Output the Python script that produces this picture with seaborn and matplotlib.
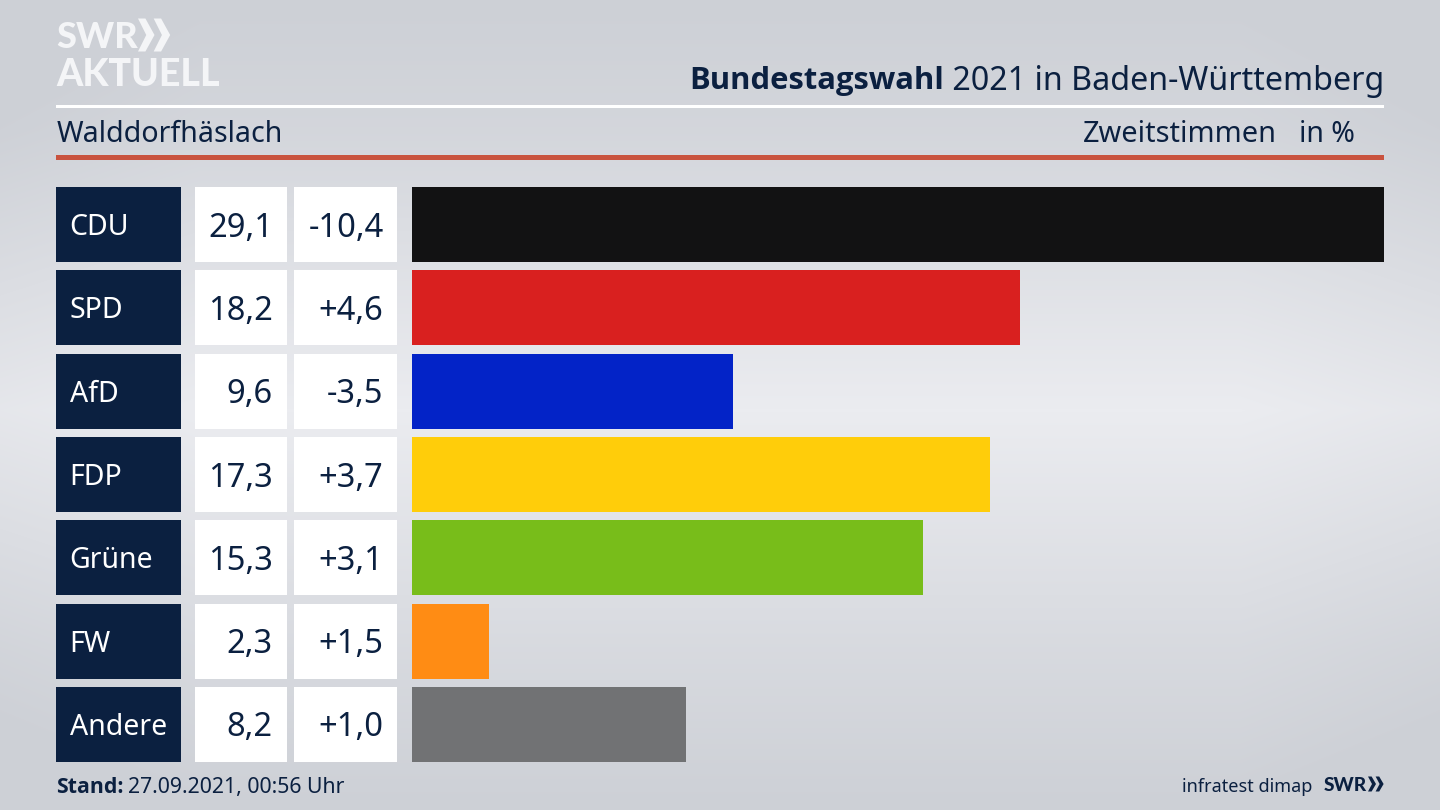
import matplotlib
matplotlib.use("Agg")
import matplotlib.pyplot as plt
import numpy as np
import pandas as pd
import seaborn as sns
from matplotlib.patches import Polygon, Rectangle
from matplotlib.transforms import blended_transform_factory

parties = ["CDU", "SPD", "AfD", "FDP", "Grüne", "FW", "Andere"]
shares = [29.1, 18.2, 9.6, 17.3, 15.3, 2.3, 8.2]
changes = ["-10,4", "+4,6", "-3,5", "+3,7", "+3,1", "+1,5", "+1,0"]
colors = ["#121213", "#d9201f", "#0323c7", "#ffcd0a", "#78bd1a", "#ff8c14", "#717274"]

NAVY = "#0b2040"
RED = "#c9533f"
LOGO = "#f4f5f7"
BOLD = "Open Sans"
HEAVY = "Lato"

sns.set_theme(style="white")
plt.rcParams["font.family"] = ["Noto Sans", "DejaVu Sans"]

fig = plt.figure(figsize=(14.4, 8.1), dpi=100)

# Hintergrund, Koordinaten in Pixeln
bg = fig.add_axes([0, 0, 1, 1])
bg.set_xlim(0, 1440)
bg.set_ylim(810, 0)
bg.axis("off")
grad_y = np.interp(np.arange(810), [0, 130, 410, 650, 809], [0.0, 0.22, 1.0, 0.35, 0.0])
grad_x = np.interp(np.arange(1440), [0, 200, 1240, 1439], [-0.18, 0, 0, -0.18])
grad = np.clip(grad_y[:, None] + grad_x[None, :], 0, 1)
bg.imshow(grad, extent=(0, 1440, 810, 0), aspect="auto", zorder=0,
          cmap=matplotlib.colors.LinearSegmentedColormap.from_list("bg", ["#cdd0d6", "#ebecf0"]),
          vmin=0, vmax=1)

# Balken
ax = fig.add_axes([412 / 1440, 1 - 766 / 810, 972 / 1440, 583 / 810])
ax.patch.set_alpha(0)
df = pd.DataFrame({"partei": parties, "anteil": shares})
sns.barplot(data=df, x="anteil", y="partei", hue="partei", palette=colors,
            legend=False, width=0.9, saturation=1, linewidth=0, ax=ax)
ax.set_xlim(0, max(shares))
ax.set_ylim(len(parties) - 0.5, -0.5)
ax.axis("off")

# Tabelle links
tr = blended_transform_factory(bg.transData, ax.transData)
for i, (p, s, c) in enumerate(zip(parties, shares, changes)):
    for x0, x1, col in [(56, 181, NAVY), (195, 287, "white"), (294, 397, "white")]:
        bg.add_patch(Rectangle((x0, i - 0.45), x1 - x0, 0.9, transform=tr,
                               facecolor=col, edgecolor="none", zorder=3))
    bg.text(69.5, i - 0.006, p, transform=tr, color="white", fontsize=20.5, va="center_baseline", zorder=4)
    bg.text(273, i - 0.006, f"{s:.1f}".replace(".", ","), transform=tr, color=NAVY, fontsize=23.5,
            ha="right", va="center_baseline", zorder=4)
    bg.text(383.5, i - 0.006, c, transform=tr, color=NAVY, fontsize=23.5,
            ha="right", va="center_baseline", zorder=4)

# Kopf
bg.add_patch(Rectangle((56, 104.5), 1328, 3, facecolor="white", edgecolor="none", zorder=2))
bg.add_patch(Rectangle((56, 155), 1328, 5, facecolor=RED, edgecolor="none", zorder=2))
bg.text(57, 131, "Walddorfhäslach", color=NAVY, fontsize=20.6, va="center_baseline", zorder=4)
bg.text(1277, 131, "Zweitstimmen", color=NAVY, fontsize=20.8, ha="right", va="center_baseline", zorder=4)
bg.text(1355, 131, "in %", color=NAVY, fontsize=20.5, ha="right", va="center_baseline", zorder=4)

t2 = bg.text(1384, 78, " 2021 in Baden-Württemberg", color=NAVY, fontsize=23.2,
             ha="right", va="center_baseline", zorder=4)
fig.canvas.draw()
left = t2.get_window_extent().x0
bg.text(left, 78, "Bundestagswahl", color=NAVY, fontsize=22.3, fontweight="bold", family=BOLD,
        ha="right", va="center_baseline", zorder=4)

# Logo oben links
bg.text(56, 35, "SWR", color=LOGO, fontsize=26, fontweight="black", va="center_baseline",
        zorder=4, family=HEAVY)
bg.text(56, 72, "AKTUELL", color=LOGO, fontsize=27, fontweight="black", va="center_baseline",
        zorder=4, family=HEAVY)


def chevrons(x, y, h, w, col):
    for dx in (0, w * 0.95):
        bg.add_patch(Polygon([(x + dx, y - h / 2), (x + dx + w * 0.45, y - h / 2),
                              (x + dx + w, y), (x + dx + w * 0.45, y + h / 2),
                              (x + dx, y + h / 2), (x + dx + w * 0.5, y)],
                             facecolor=col, edgecolor="none", zorder=4))


chevrons(138, 35, 33, 16.5, LOGO)

# Fuss
st = bg.text(56, 785, "Stand:", color=NAVY, fontsize=15.3, fontweight="bold", family=BOLD,
             va="center_baseline", zorder=4)
fig.canvas.draw()
bg.text(st.get_window_extent().x1 + 4, 785, "27.09.2021, 00:56 Uhr", color=NAVY, fontsize=15.3,
        va="center_baseline", zorder=4)
bg.text(1312, 785, "infratest dimap", color=NAVY, fontsize=13, ha="right",
        va="center_baseline", zorder=4)
bg.text(1324, 784, "SWR", color=NAVY, fontsize=13.8, fontweight="black", family=HEAVY,
        va="center_baseline", zorder=4)
chevrons(1368, 784, 15, 8, NAVY)

fig.savefig("out.png", dpi=100)
